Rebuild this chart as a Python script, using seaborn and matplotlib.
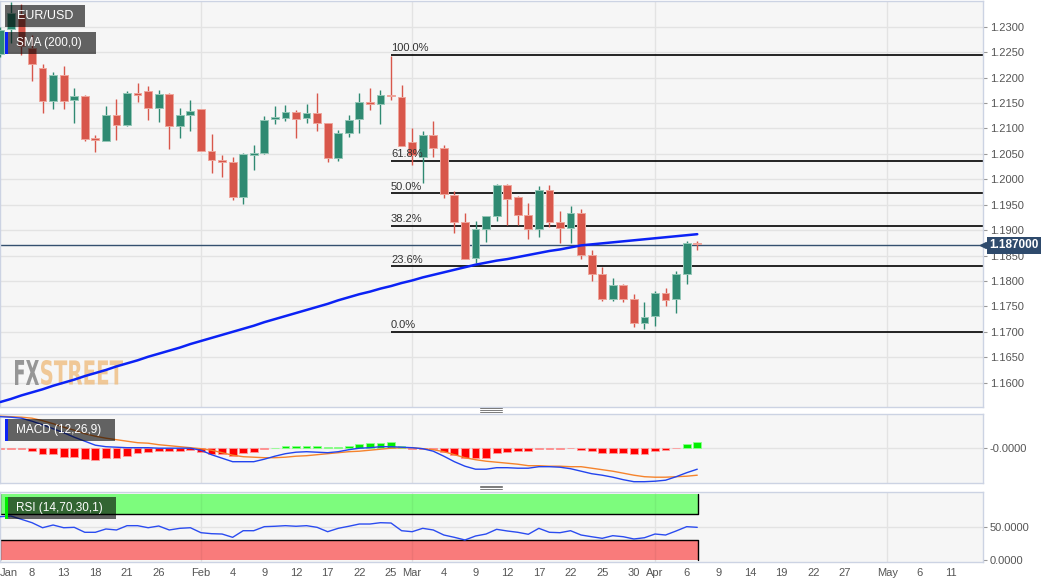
import matplotlib
matplotlib.use("Agg")
import matplotlib.pyplot as plt
import numpy as np
import pandas as pd
import seaborn as sns
from matplotlib.font_manager import FontProperties
from matplotlib.lines import Line2D
from matplotlib.patches import PathPatch, Rectangle
from matplotlib.textpath import TextPath
from matplotlib.transforms import Affine2D, blended_transform_factory

# --- data (daily EUR/USD candles, 2021-01-05 .. 2021-04-07) ---
opens = [1.2246, 1.2295, 1.2325, 1.2258, 1.2218, 1.2154, 1.2205, 1.2155, 1.2164, 1.2081,
         1.2076, 1.2126, 1.2106, 1.2169, 1.2173, 1.2141, 1.2167, 1.2105, 1.2126, 1.2138,
         1.2056, 1.2037, 1.2033, 1.1966, 1.2047, 1.2051, 1.2119, 1.2120, 1.2132, 1.2120,
         1.2131, 1.2111, 1.2042, 1.2091, 1.2118, 1.2152, 1.2147, 1.2166, 1.2162, 1.2074,
         1.2044, 1.2088, 1.2061, 1.1970, 1.1915, 1.1845, 1.1902, 1.1928, 1.1989, 1.1965,
         1.1929, 1.1902, 1.1979, 1.1915, 1.1904, 1.1933, 1.1851, 1.1813, 1.1764, 1.1793,
         1.1765, 1.1718, 1.1731, 1.1776, 1.1764, 1.1813, 1.1875]
highs = [1.2300, 1.2349, 1.2345, 1.2284, 1.2227, 1.2210, 1.2223, 1.2179, 1.2166, 1.2087,
         1.2145, 1.2158, 1.2174, 1.2189, 1.2183, 1.2175, 1.2169, 1.2141, 1.2156, 1.2139,
         1.2089, 1.2048, 1.2043, 1.2051, 1.2067, 1.2124, 1.2144, 1.2146, 1.2136, 1.2148,
         1.2169, 1.2111, 1.2097, 1.2126, 1.2169, 1.2179, 1.2175, 1.2243, 1.2185, 1.2100,
         1.2094, 1.2115, 1.2068, 1.1977, 1.1934, 1.1917, 1.1927, 1.1990, 1.1990, 1.1967,
         1.1953, 1.1987, 1.1989, 1.1938, 1.1947, 1.1941, 1.1861, 1.1828, 1.1805, 1.1794,
         1.1774, 1.1759, 1.1781, 1.1786, 1.1820, 1.1879, 1.1879]
lows = [1.2240, 1.2267, 1.2244, 1.2193, 1.2131, 1.2138, 1.2139, 1.2110, 1.2076, 1.2053,
        1.2075, 1.2077, 1.2104, 1.2151, 1.2117, 1.2112, 1.2059, 1.2081, 1.2094, 1.2055,
        1.2012, 1.2004, 1.1959, 1.1952, 1.2018, 1.2049, 1.2109, 1.2114, 1.2081, 1.2111,
        1.2094, 1.2034, 1.2036, 1.2083, 1.2090, 1.2136, 1.2108, 1.2156, 1.2066, 1.2028,
        1.1992, 1.2043, 1.1963, 1.1894, 1.1844, 1.1835, 1.1877, 1.1917, 1.1910, 1.1910,
        1.1882, 1.1886, 1.1906, 1.1874, 1.1874, 1.1843, 1.1799, 1.1761, 1.1761, 1.1759,
        1.1710, 1.1705, 1.1711, 1.1750, 1.1738, 1.1795, 1.1861]
closes = [1.2294, 1.2326, 1.2262, 1.2226, 1.2153, 1.2205, 1.2154, 1.2164, 1.2079, 1.2077,
          1.2126, 1.2107, 1.2169, 1.2165, 1.2141, 1.2167, 1.2105, 1.2126, 1.2135, 1.2056,
          1.2037, 1.2033, 1.1966, 1.2049, 1.2052, 1.2117, 1.2121, 1.2132, 1.2119, 1.2130,
          1.2111, 1.2042, 1.2091, 1.2117, 1.2151, 1.2148, 1.2165, 1.2163, 1.2066, 1.2048,
          1.2088, 1.2062, 1.1972, 1.1916, 1.1844, 1.1902, 1.1927, 1.1989, 1.1961, 1.1930,
          1.1902, 1.1979, 1.1915, 1.1904, 1.1933, 1.1851, 1.1813, 1.1764, 1.1793, 1.1764,
          1.1717, 1.1730, 1.1776, 1.1763, 1.1813, 1.1875, 1.1872]
sma200 = [1.1562, 1.1568, 1.1575, 1.1581, 1.1587, 1.1594, 1.1600, 1.1606, 1.1613, 1.1619,
          1.1625, 1.1632, 1.1638, 1.1644, 1.1651, 1.1657, 1.1663, 1.1669, 1.1676, 1.1682,
          1.1688, 1.1694, 1.1700, 1.1706, 1.1712, 1.1719, 1.1725, 1.1731, 1.1737, 1.1743,
          1.1749, 1.1755, 1.1762, 1.1768, 1.1774, 1.1779, 1.1785, 1.1790, 1.1796, 1.1801,
          1.1807, 1.1812, 1.1817, 1.1822, 1.1827, 1.1832, 1.1836, 1.1840, 1.1843, 1.1847,
          1.1851, 1.1855, 1.1859, 1.1862, 1.1866, 1.1870, 1.1872, 1.1874, 1.1876, 1.1878,
          1.1880, 1.1882, 1.1884, 1.1886, 1.1888, 1.1890, 1.1892]
macd_line = [0.0062, 0.0061, 0.0059, 0.0053, 0.0046, 0.0038, 0.0030, 0.0021, 0.0013, 0.0005,
             0.0002, 0.0001, 0.0000, 0.0000, -0.0000, -0.0001, -0.0001, -0.0001, -0.0001,
             -0.0005, -0.0014, -0.0021, -0.0028, -0.0028, -0.0028, -0.0023, -0.0017, -0.0012,
             -0.0009, -0.0008, -0.0009, -0.0010, -0.0008, -0.0004, -0.0001, 0.0000, 0.0002,
             0.0002, 0.0001,
             0.0000, -0.0002, -0.0007, -0.0017, -0.0028, -0.0037, -0.0043, -0.0043, -0.0040,
             -0.0040, -0.0041, -0.0041, -0.0038, -0.0038, -0.0039, -0.0042, -0.0047, -0.0052,
             -0.0055, -0.0059, -0.0064, -0.0068, -0.0068, -0.0067, -0.0065, -0.0058, -0.0050,
             -0.0043]
macd_signal = [0.0063, 0.0062, 0.0061, 0.0059, 0.0054, 0.0048, 0.0041, 0.0035, 0.0028, 0.0023,
               0.0019, 0.0016, 0.0013, 0.0010, 0.0009, 0.0006, 0.0004, 0.0002, 0.0000,
               -0.0002, -0.0005, -0.0010, -0.0015, -0.0018, -0.0019, -0.0020, -0.0020, -0.0019,
               -0.0017, -0.0016, -0.0014, -0.0012, -0.0010, -0.0008, -0.0007, -0.0005, -0.0003,
               -0.0001, -0.0000,
               0.0000, -0.0002, -0.0004, -0.0008, -0.0014, -0.0020, -0.0024, -0.0027, -0.0029,
               -0.0031, -0.0033, -0.0036, -0.0036, -0.0037, -0.0037, -0.0038, -0.0038, -0.0041,
               -0.0044, -0.0047, -0.0051, -0.0055, -0.0058, -0.0059, -0.0059, -0.0058, -0.0057,
               -0.0055]
macd_hist = [-0.0002, -0.0002, -0.0002, -0.0006, -0.0013, -0.0013, -0.0018, -0.0019, -0.0023,
             -0.0025, -0.0021, -0.0021, -0.0016, -0.0011, -0.0009, -0.0007, -0.0006, -0.0006,
             -0.0005,
             -0.0008, -0.0012, -0.0012, -0.0016, -0.0011, -0.0008, -0.0003, 0.0000, 0.0003,
             0.0003, 0.0004, 0.0004, 0.0002, 0.0002, 0.0004, 0.0007, 0.0009, 0.0010, 0.0011,
             0.0004,
             -0.0002, -0.0002, -0.0003, -0.0008, -0.0015, -0.0021, -0.0021, -0.0020, -0.0011,
             -0.0008, -0.0007, -0.0007, -0.0003, -0.0003, -0.0003, -0.0001, -0.0004, -0.0007,
             -0.0010, -0.0010, -0.0010, -0.0012, -0.0012, -0.0007, -0.0004, -0.0001, 0.0007,
             0.0011]
rsi = [65.9, 66.9, 61.9, 56.8, 49.2, 53.3, 49.2, 49.8, 42.3, 42.3,
       47.3, 45.8, 52.3, 52.3, 49.2, 51.8, 45.8, 48.3, 49.2,
       41.7, 40.2, 39.7, 34.7, 44.7, 44.7, 50.8, 51.4, 52.3, 51.4,
       52.3, 49.8, 43.2, 48.3, 51.4, 54.8, 54.8, 56.8, 56.3, 44.7,
       43.2, 48.3, 45.8, 38.2, 34.7, 30.7, 36.7, 39.7, 46.8, 44.3,
       42.3, 39.3, 48.3, 42.3, 41.7, 44.7, 38.2, 35.6, 33.2, 37.2,
       35.6, 32.2, 34.1, 39.7, 38.2, 44.3, 50.8, 49.8]

fib_high = 1.2245
fib_low = 1.1700
fib_start = "2021-02-25"
fib_ratios = [1.0, 0.618, 0.5, 0.382, 0.236, 0.0]
last_price = 1.1870

price_ticks = [1.1600, 1.1650, 1.1700, 1.1750, 1.1800, 1.1850, 1.1900, 1.1950,
               1.2000, 1.2050, 1.2100, 1.2150, 1.2200, 1.2250, 1.2300]
tick_dates = ["2021-01-05", "2021-01-08", "2021-01-13", "2021-01-18", "2021-01-21",
              "2021-01-26", "2021-02-01", "2021-02-04", "2021-02-09", "2021-02-12",
              "2021-02-17", "2021-02-22", "2021-02-25", "2021-03-01", "2021-03-04",
              "2021-03-09", "2021-03-12", "2021-03-17", "2021-03-22", "2021-03-25",
              "2021-03-30", "2021-04-01", "2021-04-06", "2021-04-09", "2021-04-14",
              "2021-04-19", "2021-04-22", "2021-04-27", "2021-05-03", "2021-05-06",
              "2021-05-11"]
tick_labels = ["Jan", "8", "13", "18", "21", "26", "Feb", "4", "9", "12", "17", "22", "25",
               "Mar", "4", "9", "12", "17", "22", "25", "30", "Apr", "6", "9", "14", "19",
               "22", "27", "May", "6", "11"]
month_starts = ["2021-02-01", "2021-03-01", "2021-04-01", "2021-05-03"]

# --- style ---
W, H = 1060, 587
GREEN = "#2f8a72"
RED = "#d8574b"
BG = "#f6f6f6"
GRID = "#e3e3e3"
SPINE = "#ccd3e3"
TXT = "#555555"
NAVY = "#2e4a6c"

sns.set_style("white")
plt.rcParams["font.family"] = ["Liberation Sans", "DejaVu Sans"]

calendar = pd.bdate_range("2021-01-05", "2021-05-14")


def day_pos(d):
    return calendar.get_loc(pd.Timestamp(d))


def px_box(x0, y0, x1, y1):
    return [x0 / W, 1 - y1 / H, (x1 - x0) / W, (y1 - y0) / H]


x = np.arange(len(opens))
o, h, l, c = (np.array(v) for v in (opens, highs, lows, closes))
x_left, x_right = -0.03, 93.06

fig = plt.figure(figsize=(W / 100, H / 100), dpi=100, facecolor="white")
ax_p = fig.add_axes(px_box(0, 1, 983, 406.7))
ax_m = fig.add_axes(px_box(0, 414.3, 983, 483.3))
ax_r = fig.add_axes(px_box(0, 491.7, 983, 561.7))

for ax in (ax_p, ax_m, ax_r):
    ax.set_facecolor(BG)
    for sp in ax.spines.values():
        sp.set_color(SPINE)
        sp.set_linewidth(1)
    for d in month_starts:
        ax.axvline(day_pos(d), color=GRID, lw=1, zorder=0.5)
    ax.yaxis.tick_right()
    ax.tick_params(axis="y", direction="out", length=3, width=0.8, color="#999999",
                   labelcolor=TXT, labelsize=8, pad=2)
    ax.set_xlim(x_left, x_right)

# --- price panel ---
ax_p.grid(axis="y", color=GRID, lw=1, zorder=0)
ax_p.set_axisbelow(True)

# watermark
def watermark(text, x0, y0, w, hgt, color, alpha):
    tp = TextPath((0, 0), text, size=1, prop=FontProperties(family="DejaVu Sans", weight="bold"))
    ext = tp.get_extents()
    tr = (Affine2D().translate(-ext.x0, -ext.y0).scale(w / ext.width / 100, hgt / ext.height / 100)
          .translate(x0 / 100, (H - y0) / 100) + fig.dpi_scale_trans)
    ax_p.add_patch(PathPatch(tp, transform=tr, fc=color, ec="none", alpha=alpha, zorder=0.8))


watermark("FX", 15, 385, 24, 25, "#8c8c8c", 0.9)
watermark("STREET", 41, 385, 82, 25, "#efbd80", 0.8)

ax_p.axhline(last_price, color="#34506f", lw=1, zorder=1.5)

fib_x = day_pos(fib_start)
for r in fib_ratios:
    level = fib_low + (fib_high - fib_low) * r
    ax_p.hlines(level, fib_x, x_right, color="black", lw=1.2, zorder=1.6)
    ax_p.annotate(f"{r * 100:.1f}%", (fib_x, level), xytext=(0, 1.2), textcoords="offset points",
                  ha="left", va="bottom", fontsize=8, color="#333333", zorder=6)

up = c >= o
col = np.where(up, GREEN, RED)
edge = np.where(up, "#95c7b7", "#eea59b")
ax_p.vlines(x, l, h, colors=col, lw=1, zorder=3)
ax_p.bar(x, np.maximum(np.abs(c - o), 0.00025), bottom=np.minimum(o, c), width=0.74,
         color=col, edgecolor=edge, linewidth=0.7, zorder=4)

sns.lineplot(x=x, y=sma200, ax=ax_p, color="#0b22f5", linewidth=1.8, zorder=5)

ax_p.set_ylim(1.15528, 1.23505)
ax_p.set_yticks(price_ticks)
ax_p.set_yticklabels([f"{v:.4f}" for v in price_ticks])
ax_p.tick_params(axis="x", length=0, labelbottom=False)

# price badge
btr = blended_transform_factory(ax_p.transAxes, ax_p.transData)
ax_p.plot([1.0], [last_price], marker="<", ms=5, color=NAVY, transform=btr, clip_on=False, zorder=7)
ax_p.annotate(f"{last_price:.6f}", (1.0, last_price), xycoords=btr, xytext=(4.6, 0),
              textcoords="offset points", ha="left", va="center", fontsize=8.5,
              fontweight="bold", color="white", zorder=8, annotation_clip=False,
              bbox=dict(boxstyle="square,pad=0.2", fc=NAVY, ec="none"))

# --- MACD panel ---
ax_m.axhline(0, color=GRID, lw=1, zorder=0.5)
hist = np.array(macd_hist)
ax_m.bar(x, hist, width=0.74, color=np.where(hist < 0, "#ff0000", "#00ee00"),
         edgecolor=np.where(hist < 0, "#ff9a9a", "#8cff8c"), linewidth=0.6, zorder=2)
sns.lineplot(x=x, y=macd_signal, ax=ax_m, color="#f5832c", linewidth=1, zorder=3)
sns.lineplot(x=x, y=macd_line, ax=ax_m, color="#2244ee", linewidth=1, zorder=4)
ax_m.set_ylim(-0.00712, 0.00668)
ax_m.set_yticks([0])
ax_m.set_yticklabels(["-0.0000"])
ax_m.tick_params(axis="x", length=0, labelbottom=False)

# --- RSI panel ---
ax_r.axhline(50, color=GRID, lw=1, zorder=0.5)
band_r = x[-1] + 0.05
ax_r.fill_between([x_left, band_r], 70, 100, color="#7dfc7d", lw=0, zorder=1)
ax_r.fill_between([x_left, band_r], 0, 30, color="#f97b7b", lw=0, zorder=1)
# month lines stay faintly visible through the bands
for d in month_starts:
    p = day_pos(d)
    if p < band_r:
        ax_r.vlines([p, p], [0, 70], [30, 100], color=(0, 0, 0, 0.05), lw=1, zorder=1.2)
ax_r.plot([x_left, x_left, band_r, band_r], [100, 70, 70, 100], color="black", lw=1, zorder=1.5)
ax_r.plot([x_left, x_left, band_r, band_r], [0, 30, 30, 0], color="black", lw=1, zorder=1.5)
sns.lineplot(x=x, y=rsi, ax=ax_r, color="#2b4cf0", linewidth=1, zorder=4)
ax_r.set_ylim(-2.1, 103.6)
ax_r.set_yticks([0, 50])
ax_r.set_yticklabels(["0.0000", "50.0000"])

pos = [day_pos(d) for d in tick_dates]
pos[0] = x_left
ax_r.set_xticks(pos)
ax_r.set_xticklabels(tick_labels)
ax_r.tick_params(axis="x", direction="out", length=2.5, width=0.8, color="#999999",
                 labelcolor=TXT, labelsize=8, pad=2)
ax_r.get_xticklabels()[0].set_ha("left")
for ax in (ax_p, ax_m, ax_r):
    ax.set_xlim(x_left, x_right)
    ax.set_xlabel("")
    ax.set_ylabel("")

# --- legend boxes ---
def label_box(x0, y0, x1, y1, text, bar=None, size=8.5):
    fig.add_artist(Rectangle((x0 / W, 1 - y1 / H), (x1 - x0) / W, (y1 - y0) / H,
                             transform=fig.transFigure, fc=(0, 0, 0, 0.6), ec="none", zorder=10))
    if bar:
        fig.add_artist(Rectangle((x0 / W, 1 - y1 / H), 2.6 / W, (y1 - y0) / H,
                                 transform=fig.transFigure, fc=bar, ec="none", zorder=11))
    fig.text(16.5 / W, 1 - (y0 + y1) / 2 / H, text, color="white", fontsize=size,
             ha="left", va="center", zorder=12)


label_box(5, 5, 85, 27, "EUR/USD", size=9)
label_box(5, 32.3, 96, 54, "SMA (200,0)", bar="#0b22f5")
label_box(5, 419, 115, 440.7, "MACD (12,26,9)", bar="#0b22f5")
label_box(5, 497.3, 115.7, 519, "RSI (14,70,30,1)", bar="#00ee00")

# panel drag handles
for ys in ((408.3, 410.0, 411.7), (485.6, 487.3, 489.0)):
    for yy in ys:
        fig.add_artist(Line2D([480 / W, 502 / W], [1 - yy / H] * 2, transform=fig.transFigure,
                              color="#7a7a7a", lw=0.7))

fig.savefig("out.png", dpi=100, facecolor="white")
